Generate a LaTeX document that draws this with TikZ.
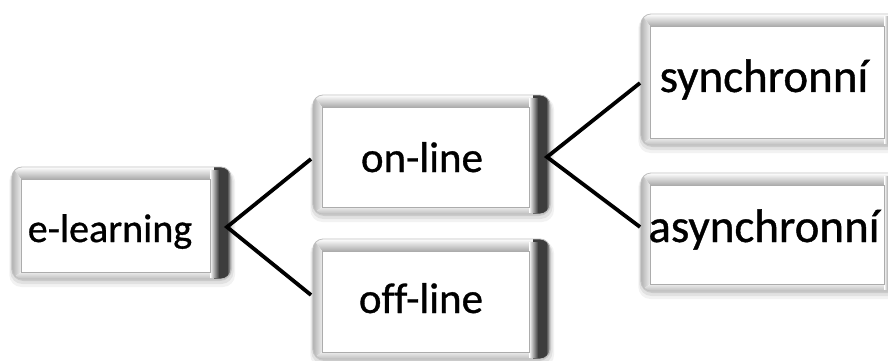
\documentclass[tikz,border=0pt]{standalone}
\usepackage{fontspec}
\setmainfont{Carlito}[Ligatures=CommonOff, FakeBold=0.8]

\tikzset{
  boxnode/.style={rectangle, inner sep=0pt, outer sep=0pt},
  link/.style={line width=3.8pt, black, line join=miter},
  lbl/.style={anchor=base, inner sep=0pt, text=black},
}

% Beveled button: #1 name, #2 left, #3 top, #4 right, #5 bottom (y grows downwards)
\newcommand\bevelbox[5]{%
  \node[boxnode, minimum width={(#4-#2)*1pt}, minimum height={(#5-#3)*1pt}]
    (#1) at ({(#2+#4)/2},{(#3+#5)/2}) {};
  % soft drop shadow
  \foreach \sd/\op in {8/0.05,5/0.07,2/0.10}{
    \fill[black, opacity=\op, rounded corners=12pt]
      (#2-\sd/3, #3+2) rectangle (#4+\sd/2, #5+\sd);
  }
  \begin{scope}
    \clip[rounded corners=10pt] (#2,#3) rectangle (#4,#5);
    \fill[white] (#2,#3) rectangle (#4,#5);
    % top bevel
    \shade[top color=white, bottom color=gray!65]
      (#2,#3) -- (#4,#3) -- (#4-21,#3+12) -- (#2+9,#3+12) -- cycle;
    % left bevel
    \shade[left color=gray!60, right color=gray!15]
      (#2,#3) -- (#2+9,#3+12) -- (#2+9,#5-7) -- (#2,#5) -- cycle;
    % bottom bevel
    \shade[top color=gray!15, bottom color=gray!50]
      (#2,#5) -- (#2+9,#5-7) -- (#4-21,#5-7) -- (#4,#5) -- cycle;
    % right bevel, dark, running the full height
    \fill[black!76] (#4-17,#3) rectangle (#4,#5);
    \shade[left color=white, right color=black!76]
      (#4-21,#3+3) rectangle (#4-12,#5-2);
    \shade[left color=black!76, right color=gray!55]
      (#4-4,#3) rectangle (#4,#5);
  \end{scope}
  \draw[gray!50, line width=0.8pt, rounded corners=10pt] (#2,#3) rectangle (#4,#5);
  % inner face
  \fill[white] (#2+9,#3+12) rectangle (#4-21,#5-7);
  \draw[gray!65, line width=0.8pt] (#2+9,#3+12) rectangle (#4-21,#5-7);
}

\begin{document}
\begin{tikzpicture}[x=1pt, y=-1pt]
  \useasboundingbox (0,0) rectangle (888,361);

  \bevelbox{el}{12}{167}{231}{279}
  \bevelbox{on}{313}{95}{550}{214}
  \bevelbox{off}{313}{239}{550}{359}
  \bevelbox{syn}{641}{14}{905}{145}
  \bevelbox{asy}{641}{173}{905}{291}

  % connectors
  \draw[link] ([yshift=-4.5pt, xshift=-2pt]on.west) -- ([xshift=-4pt, yshift=-4pt]el.east)
              -- ([yshift=4pt, xshift=-2pt]off.west);
  \draw[link] ([yshift=-3.5pt, xshift=-1pt]syn.west) -- ([xshift=-3pt, yshift=-2.5pt]on.east)
              -- ([yshift=5pt, xshift=-1pt]asy.west);

  % labels
  \node[lbl, font=\fontsize{40}{48}\selectfont] (tel) at (110,242) {e-learning};
  \node[lbl, font=\fontsize{43}{52}\selectfont] (ton) at (422,172) {on-line};
  \node[lbl, font=\fontsize{43}{52}\selectfont] (toff) at (421,313) {off-line};
  \node[lbl, font=\fontsize{47}{56}\selectfont] (tsyn) at (764,92) {synchronní};
  \node[lbl, font=\fontsize{47}{56}\selectfont] (tasy) at (764,242) {asynchronní};
\end{tikzpicture}
\end{document}
